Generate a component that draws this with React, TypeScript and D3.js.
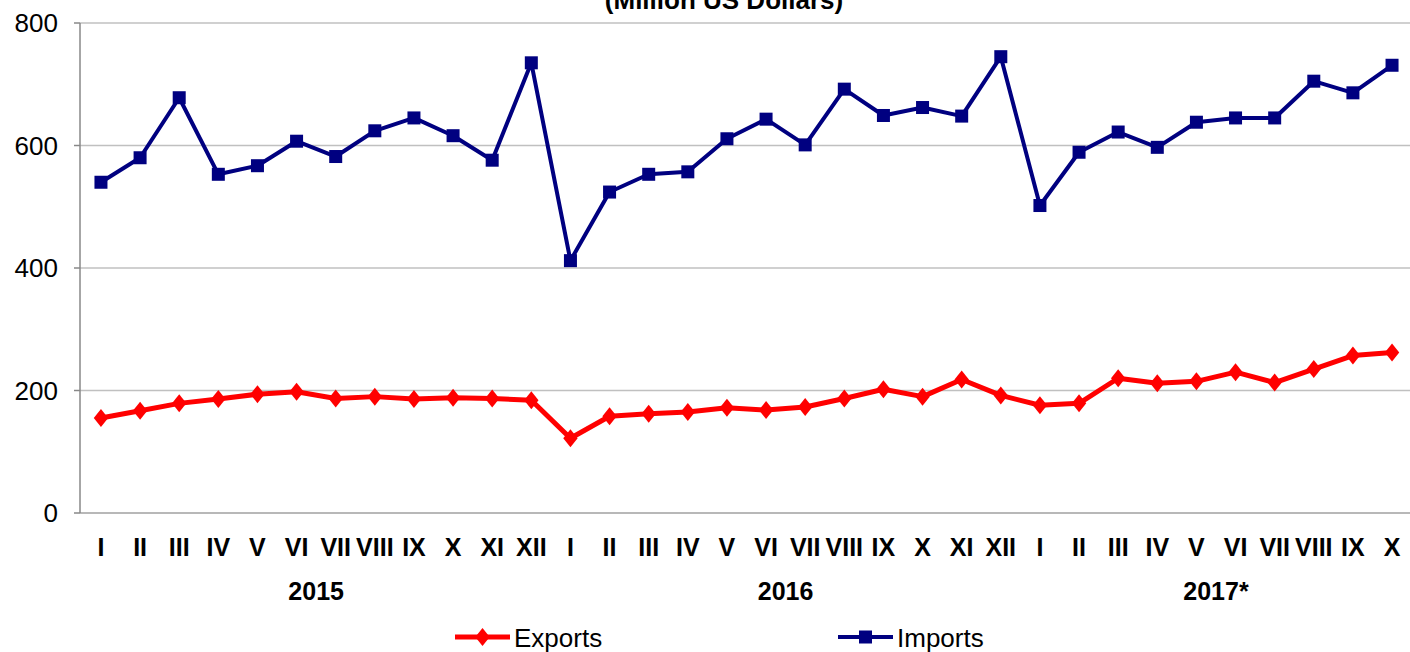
import React from "react";
import * as d3 from "d3";

const months = ["I","II","III","IV","V","VI","VII","VIII","IX","X","XI","XII",
  "I","II","III","IV","V","VI","VII","VIII","IX","X","XI","XII",
  "I","II","III","IV","V","VI","VII","VIII","IX","X"];
const years = [
  { label: "2015", start: 0, count: 12 },
  { label: "2016", start: 12, count: 12 },
  { label: "2017*", start: 24, count: 10 },
];
const exportsData = [155,167,179,186,194,198,187,190,186,188,187,184,
  122,158,162,165,172,168,173,187,202,190,218,192,
  176,179,220,212,215,230,213,235,257,262];
const importsData = [540,580,678,553,567,607,582,624,645,616,576,735,
  412,524,553,557,611,643,601,692,649,662,648,745,
  502,589,622,597,638,645,645,705,686,731];
const yTicks = [0,200,400,600,800];
const title = "(Million US Dollars)";

const W = 1410, H = 652;
const FONT = "'Liberation Sans', Arial, sans-serif";

export default function App() {
  const idx = months.map((_, i) => i);
  const x = d3.scalePoint<number>().domain(idx).range([81.4, 1411.6]).padding(0.5);
  const y = d3.scaleLinear().domain([0, 800]).range([513, 23]);
  const axisX = 80;
  const line = d3.line<number>().x((_, i) => x(i)!).y((d) => y(d));
  const diamond = (cx: number, cy: number, r: number) =>
    `M${cx},${cy - r}L${cx + r * 0.8},${cy}L${cx},${cy + r}L${cx - r * 0.8},${cy}Z`;
  const step = x.step();

  return (
    <svg width={W} height={H} style={{ position: "absolute", left: 0, top: 0, background: "#fff" }}>
      <text x={724} y={9} textAnchor="middle" fontFamily={FONT} fontWeight="bold" fontSize={26}>{title}</text>
      {yTicks.map((t) => (
        <g key={t}>
          <line x1={axisX} x2={W} y1={y(t)} y2={y(t)} stroke={t === 0 ? "#a0a0a0" : "#c0c0c0"} strokeWidth={1.5} />
          <line x1={74} x2={axisX} y1={y(t)} y2={y(t)} stroke="#888" strokeWidth={1.5} />
          <text x={58} y={y(t)} dy="0.36em" textAnchor="end" fontFamily={FONT} fontSize={26}>{t}</text>
        </g>
      ))}
      <line x1={axisX} x2={axisX} y1={y(800)} y2={y(0)} stroke="#888" strokeWidth={1.5} />
      {months.map((m, i) => (
        <text key={i} x={x(i)} y={556} textAnchor="middle" fontFamily={FONT} fontWeight="bold" fontSize={25}>{m}</text>
      ))}
      {years.map((yr) => (
        <text key={yr.label} x={(x(yr.start)! + x(yr.start + yr.count - 1)!) / 2} y={600}
          textAnchor="middle" fontFamily={FONT} fontWeight="bold" fontSize={25}>{yr.label}</text>
      ))}
      <path d={line(importsData) || ""} fill="none" stroke="#000080" strokeWidth={4} strokeLinejoin="round" />
      {importsData.map((d, i) => (
        <rect key={i} x={x(i)! - 6.5} y={y(d) - 6.5} width={13} height={13} fill="#000080" />
      ))}
      <path d={line(exportsData) || ""} fill="none" stroke="#ff0000" strokeWidth={5} strokeLinejoin="round" />
      {exportsData.map((d, i) => (
        <path key={i} d={diamond(x(i)!, y(d), 9)} fill="#ff0000" />
      ))}
      <g>
        <line x1={455} x2={510} y1={637} y2={637} stroke="#ff0000" strokeWidth={5} />
        <path d={diamond(482.5, 637, 9)} fill="#ff0000" />
        <text x={514} y={647} fontFamily={FONT} fontSize={26}>Exports</text>
        <line x1={838} x2={893} y1={637} y2={637} stroke="#000080" strokeWidth={4} />
        <rect x={859} y={630.5} width={13} height={13} fill="#000080" />
        <text x={897} y={647} fontFamily={FONT} fontSize={26}>Imports</text>
      </g>
      {step ? null : null}
    </svg>
  );
}
